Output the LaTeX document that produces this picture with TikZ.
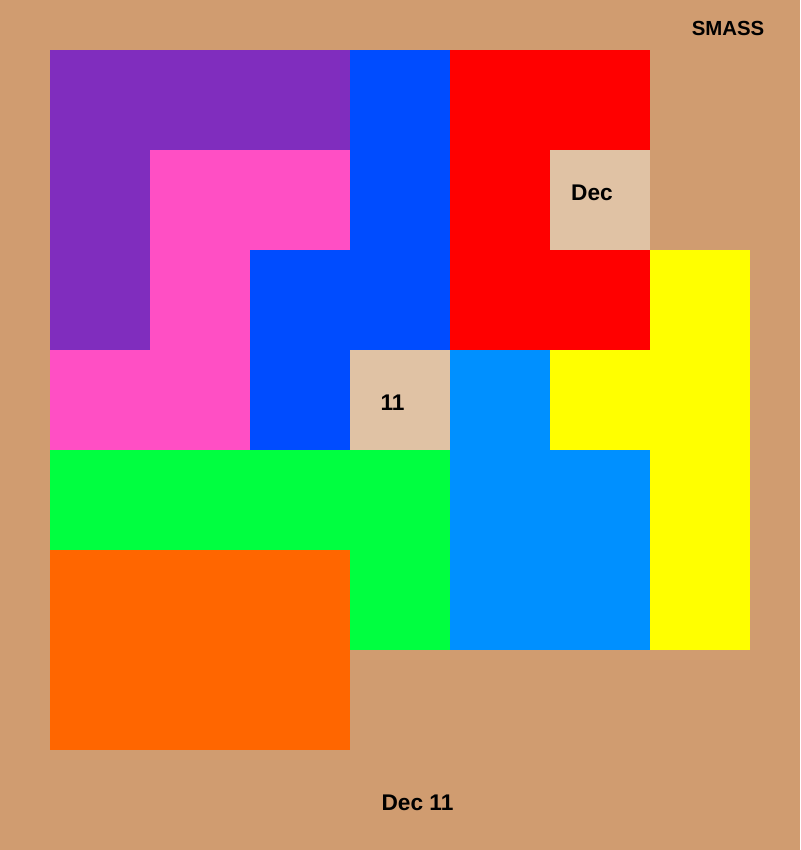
\documentclass[tikz,border=0pt]{standalone}
\usepackage{fontspec}
\setmainfont{Liberation Sans}
\definecolor{boardbg}{RGB}{208,156,112}
\definecolor{holetan}{RGB}{224,194,164}
\definecolor{pcpurple}{RGB}{128,45,190}
\definecolor{pcblue}{RGB}{0,76,255}
\definecolor{pcred}{RGB}{255,0,0}
\definecolor{pcpink}{RGB}{255,79,196}
\definecolor{pcyellow}{RGB}{255,255,0}
\definecolor{pcsky}{RGB}{0,144,255}
\definecolor{pcgreen}{RGB}{0,255,64}
\definecolor{pcorange}{RGB}{255,102,0}
\begin{document}
\begin{tikzpicture}[x=1cm, y=1cm,
    label/.style={inner sep=0pt, font=\bfseries\fontsize{6.45}{7}\selectfont}]
    % Hintergrund
    \fill[boardbg] (0,0) rectangle (8,8.5);
    \useasboundingbox (0,0) rectangle (8,8.5);

    % --- Teile (Spalte/Zeile) ---

    % lila
    \foreach \c/\r in {0/0,1/0,2/0,0/1,0/2}
        \fill[pcpurple] (0.5+\c,7-\r) rectangle ++(1,1);
    % blau
    \foreach \c/\r in {3/0,3/1,3/2,2/2,2/3}
        \fill[pcblue] (0.5+\c,7-\r) rectangle ++(1,1);
    % rot
    \foreach \c/\r in {4/0,5/0,4/1,4/2,5/2}
        \fill[pcred] (0.5+\c,7-\r) rectangle ++(1,1);
    % rosa
    \foreach \c/\r in {1/1,2/1,1/2,0/3,1/3}
        \fill[pcpink] (0.5+\c,7-\r) rectangle ++(1,1);
    % gelb
    \foreach \c/\r in {6/2,5/3,6/3,6/4,6/5}
        \fill[pcyellow] (0.5+\c,7-\r) rectangle ++(1,1);
    % hellblau
    \foreach \c/\r in {4/3,4/4,5/4,4/5,5/5}
        \fill[pcsky] (0.5+\c,7-\r) rectangle ++(1,1);
    % gruen
    \foreach \c/\r in {0/4,1/4,2/4,3/4,3/5}
        \fill[pcgreen] (0.5+\c,7-\r) rectangle ++(1,1);
    % orange
    \foreach \c/\r in {0/5,1/5,2/5,0/6,1/6,2/6}
        \fill[pcorange] (0.5+\c,7-\r) rectangle ++(1,1);

    % freie Felder
    \fill[holetan] (5.5,6) rectangle ++(1,1);
    \fill[holetan] (3.5,4) rectangle ++(1,1);

    % Beschriftung
    \node[label] (month) at (5.92,6.567) {Dec};
    \node[label] (day) at (3.925,4.47) {11};
    \node[label, font=\bfseries\fontsize{5.8}{7}\selectfont] (title) at (7.28,8.213) {SMASS};
    \node[label] (date) at (4.175,0.47) {Dec 11};
\end{tikzpicture}
\end{document}
